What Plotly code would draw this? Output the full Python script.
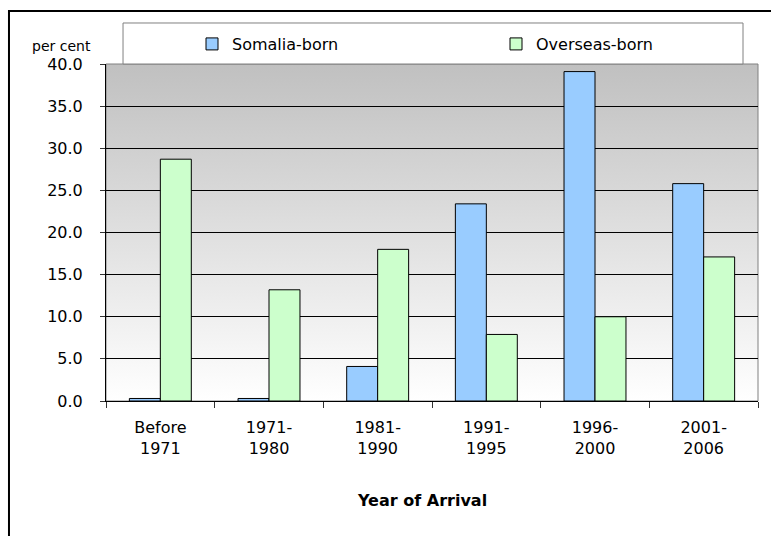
import base64
import plotly.graph_objects as go

categories = ['Before<br>1971', '1971-<br>1980', '1981-<br>1990', '1991-<br>1995', '1996-<br>2000', '2001-<br>2006']
somalia_born = [0.3, 0.3, 4.1, 23.4, 39.1, 25.8]
overseas_born = [28.7, 13.2, 18.0, 7.9, 10.0, 17.1]

FONT = 'DejaVu Sans'

# vertical grey-to-white gradient for the plot area
svg = ('<svg xmlns="http://www.w3.org/2000/svg" width="10" height="100" preserveAspectRatio="none">'
       '<defs><linearGradient id="g" x1="0" y1="0" x2="0" y2="1">'
       '<stop offset="0" stop-color="#c0c0c0"/><stop offset="1" stop-color="#ffffff"/>'
       '</linearGradient></defs><rect width="10" height="100" fill="url(#g)"/></svg>')
grad_src = 'data:image/svg+xml;base64,' + base64.b64encode(svg.encode()).decode()

fig = go.Figure()
fig.add_trace(go.Bar(x=categories, y=somalia_born, name='Somalia-born', legend='legend',
    marker=dict(color='#99ccff', line=dict(color='#000000', width=1))))
fig.add_trace(go.Bar(x=categories, y=overseas_born, name='Overseas-born', legend='legend2',
    marker=dict(color='#ccffcc', line=dict(color='#000000', width=1))))

leg = dict(yanchor='middle', y=1.0593, xanchor='left', bgcolor='rgba(0,0,0,0)',
           font=dict(family=FONT, size=16), orientation='h')

fig.update_layout(
    width=771, height=536,
    margin=dict(l=106, r=13, t=64, b=135, autoexpand=False),
    paper_bgcolor='#ffffff', plot_bgcolor='rgba(0,0,0,0)',
    font=dict(family=FONT, size=16, color='#000000'),
    barmode='group', bargap=0.43, bargroupgap=0,
    showlegend=True,
    legend=dict(leg, x=(192 - 106) / 652),
    legend2=dict(leg, x=(496 - 106) / 652),
    xaxis=dict(showgrid=False, showline=True, linecolor='#000000', linewidth=1,
               ticks='outside', ticklen=6, tickcolor='#333333', tickson='boundaries',
               ticklabelstandoff=12, tickfont=dict(size=16)),
    yaxis=dict(range=[0, 40], dtick=5, tickformat='.1f', showgrid=True,
               gridcolor='#000000', gridwidth=1, zeroline=False,
               showline=True, linecolor='#000000', linewidth=1,
               ticks='outside', ticklen=5, tickcolor='#333333',
               ticklabelstandoff=14, tickfont=dict(size=16)),
    images=[dict(source=grad_src, xref='paper', yref='paper', x=0, y=1,
                 sizex=1, sizey=1, sizing='stretch', layer='below', xanchor='left', yanchor='top')],
    shapes=[
        # plot area border
        dict(type='rect', xref='paper', yref='paper', x0=0, x1=1, y0=0, y1=1,
             line=dict(color='#808080', width=1), fillcolor='rgba(0,0,0,0)', layer='below'),
        # legend box
        dict(type='rect', xref='paper', yref='paper', x0=0.0261, x1=0.977, y0=1.0, y1=1.1217,
             line=dict(color='#808080', width=1), fillcolor='#ffffff', layer='above'),
        # outer chart border
        dict(type='rect', xref='paper', yref='paper', x0=-0.1488, x1=1.2, y0=-0.8, y1=1.157,
             line=dict(color='#000000', width=2), fillcolor='rgba(0,0,0,0)', layer='above'),
    ],
    annotations=[
        dict(text='per cent', xref='paper', yref='paper', x=-0.0675, y=1.053,
             showarrow=False, font=dict(size=14), xanchor='center', yanchor='middle'),
        dict(text='<b>Year of Arrival</b>', xref='paper', yref='paper', x=0.485, y=-0.294,
             showarrow=False, font=dict(size=16), xanchor='center', yanchor='middle'),
    ],
)

# drop the browser's default body margin so the figure sits at the page origin
fig.write_html('out.html', config={'displayModeBar': False},
               post_script="document.body.style.margin='0';")
